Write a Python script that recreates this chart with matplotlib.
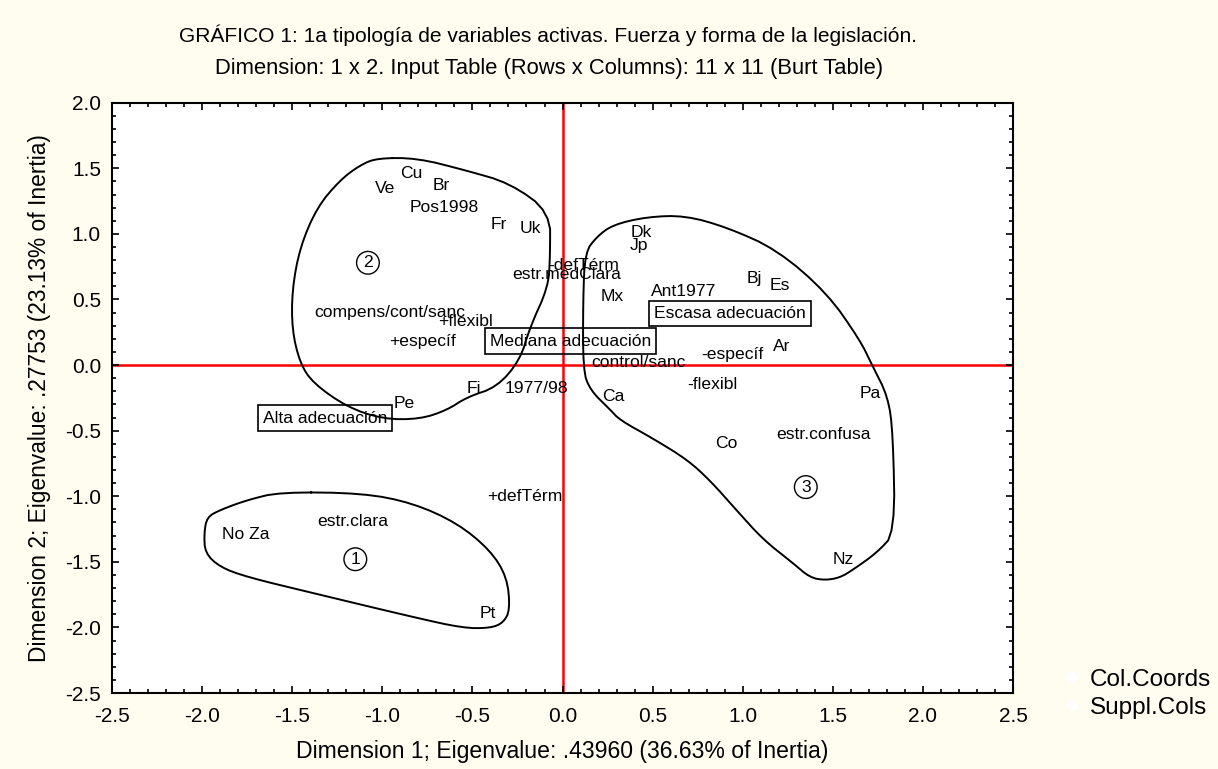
import numpy as np
import matplotlib
matplotlib.use("Agg")
import matplotlib.pyplot as plt
from matplotlib.lines import Line2D
from matplotlib.ticker import MultipleLocator

plt.rcParams['font.family'] = ['Liberation Sans', 'DejaVu Sans']

# active column categories (Col.Coords)
col_labels = ["Pos1998", "-defTérm", "estr.medClara", "compens/cont/sanc", "+flexibl",
              "+específ", "1977/98", "Ant1977", "-específ", "control/sanc", "-flexibl",
              "estr.confusa", "+defTérm", "estr.clara"]
col_x = [-0.85, -0.08, -0.28, -1.38, -0.69, -0.96, -0.32, 0.49, 0.77, 0.16, 0.69, 1.185, -0.42, -1.36]
col_y = [1.20, 0.76, 0.69, 0.40, 0.33, 0.18, -0.18, 0.56, 0.08, 0.02, -0.15, -0.526, -1.00, -1.19]

# supplementary columns (countries)
sup_labels = ["Cu", "Ve", "Br", "Fr", "Uk", "Fi", "Pe", "Dk", "Jp", "Mx", "Bj", "Es",
              "Ar", "Ca", "Pa", "Co", "Nz", "No Za", "Pt"]
sup_x = [-0.90, -1.04, -0.72, -0.40, -0.24, -0.53, -0.94, 0.38, 0.37, 0.21, 1.02, 1.15,
         1.17, 0.22, 1.65, 0.846, 1.50, -1.89, -0.46]
sup_y = [1.46, 1.35, 1.37, 1.07, 1.04, -0.18, -0.29, 1.01, 0.91, 0.52, 0.66, 0.61,
         0.145, -0.24, -0.22, -0.595, -1.48, -1.29, -1.89]

# boxed group labels
box_labels = ["Mediana adecuación", "Alta adecuación", "Escasa adecuación"]
box_x = [0.044, -1.318, 0.930]
box_y = [0.183, -0.404, 0.393]

# circled cluster numbers
clu_labels = ["1", "2", "3"]
clu_x = [-1.15, -1.08, 1.35]
clu_y = [-1.48, 0.78, -0.93]

# hand-drawn cluster outlines (closed, first point not repeated)
c1_x = [-1.568, -1.107, -0.830, -0.585, -0.402, -0.308, -0.291, -0.330, -0.402, -0.552,
        -0.830, -1.385, -1.751, -1.901, -1.984, -1.989, -1.973, -1.901, -1.751]
c1_y = [-0.968, -0.976, -1.052, -1.204, -1.410, -1.616, -1.867, -1.966, -2.005, -2.005,
        -1.921, -1.738, -1.616, -1.540, -1.433, -1.280, -1.159, -1.105, -1.029]
c2_x = [-1.029, -0.807, -0.541, -0.291, -0.069, -0.069, -0.080, -0.180, -0.236, -0.364,
        -0.530, -0.641, -0.791, -0.996, -1.196, -1.385, -1.457, -1.501, -1.501, -1.457,
        -1.362, -1.235, -1.124]
c2_y = [1.578, 1.578, 1.486, 1.387, 1.166, 0.823, 0.594, 0.290, 0.038, -0.168,
        -0.244, -0.343, -0.412, -0.412, -0.320, -0.137, 0.015, 0.267, 0.572, 0.899,
        1.204, 1.410, 1.524]
c3_x = [0.114, 0.114, 0.125, 0.191, 0.280, 0.469, 0.680, 0.913, 1.190, 1.468, 1.651,
        1.718, 1.806, 1.834, 1.845, 1.745, 1.612, 1.540, 1.457, 1.373, 1.279, 1.113,
        0.968, 0.819, 0.691, 0.502, 0.319, 0.264, 0.153]
c3_y = [-0.04, 0.50, 0.86, 0.98, 1.07, 1.13, 1.14, 1.05, 0.88, 0.55, 0.19,
        0.00, -0.24, -0.52, -1.28, -1.43, -1.56, -1.62, -1.64, -1.62, -1.51, -1.33,
        -1.11, -0.88, -0.72, -0.56, -0.42, -0.34, -0.19]


def chaikin(xs, ys, n=2):
    # corner cutting on a closed outline so the freehand shapes look rounded
    p = np.column_stack([xs, ys])
    for _ in range(n):
        nxt = np.roll(p, -1, axis=0)
        q = 0.75 * p + 0.25 * nxt
        r = 0.25 * p + 0.75 * nxt
        p = np.empty((2 * len(q), 2))
        p[0::2], p[1::2] = q, r
    p = np.vstack([p, p[:1]])
    return p[:, 0], p[:, 1]


bg = '#fffdf0'
fig = plt.figure(figsize=(12.18, 7.69), dpi=100, facecolor=bg)
ax = fig.add_axes([0.092, 0.0988, 0.7397, 0.7676])
ax.set_facecolor('white')

ax.axhline(0, color='red', lw=1.8, zorder=1)
ax.axvline(0, color='red', lw=1.8, zorder=1)

for cx, cy in [(c1_x, c1_y), (c2_x, c2_y), (c3_x, c3_y)]:
    sx, sy = chaikin(cx, cy)
    ax.plot(sx, sy, color='black', lw=1.4, zorder=2)

ax.scatter(col_x, col_y, s=20, color='white', zorder=0.5)
ax.scatter(sup_x, sup_y, s=20, color='white', zorder=0.5)

fs = 12.6
for lab, x, y in zip(col_labels + sup_labels, col_x + sup_x, col_y + sup_y):
    ax.text(x, y, lab, fontsize=fs, ha='left', va='center', zorder=3)

for lab, x, y in zip(box_labels, box_x, box_y):
    ax.text(x, y, lab, fontsize=fs, ha='center', va='center', zorder=3,
            bbox=dict(boxstyle='square,pad=0.3', facecolor='none', edgecolor='black', lw=1.2))

for lab, x, y in zip(clu_labels, clu_x, clu_y):
    ax.text(x, y, lab, fontsize=fs, ha='center', va='center', zorder=3,
            bbox=dict(boxstyle='circle,pad=0.22', facecolor='none', edgecolor='black', lw=1.0))

ax.set_xlim(-2.5, 2.5)
ax.set_ylim(-2.5, 2.0)
ax.xaxis.set_major_locator(MultipleLocator(0.5))
ax.yaxis.set_major_locator(MultipleLocator(0.5))
ax.xaxis.set_minor_locator(MultipleLocator(0.1))
ax.yaxis.set_minor_locator(MultipleLocator(0.1))
ax.xaxis.set_major_formatter(lambda v, p: f"{v:.1f}")
ax.yaxis.set_major_formatter(lambda v, p: f"{v:.1f}")
ax.tick_params(which='both', direction='in', top=True, right=True, labelsize=15, width=1.2)
ax.tick_params(which='major', length=5)
ax.tick_params(axis='x', which='major', pad=10)
ax.tick_params(axis='y', which='major', pad=8)
ax.tick_params(which='minor', length=3)
for sp in ax.spines.values():
    sp.set_linewidth(1.5)

ax.set_xlabel("Dimension 1; Eigenvalue: .43960 (36.63% of Inertia)", fontsize=16.6, labelpad=10)
ax.set_ylabel("Dimension 2; Eigenvalue: .27753 (23.13% of Inertia)", fontsize=16.4, labelpad=10)

fig.text(0.450, 0.954, "GRÁFICO 1: 1a tipología de variables activas. Fuerza y forma de la legislación.",
         fontsize=15.1, ha='center', va='center')
fig.text(0.451, 0.911, "Dimension: 1 x 2. Input Table (Rows x Columns): 11 x 11 (Burt Table)",
         fontsize=15.8, ha='center', va='center')

handles = [Line2D([], [], marker='o', ls='none', color='white', markersize=7) for _ in range(2)]
fig.legend(handles, ['Col.Coords', 'Suppl.Cols'], loc='center left',
           bbox_to_anchor=(0.870, 0.098), frameon=False, fontsize=17.5,
           handlelength=1.0, handletextpad=0.25, labelspacing=0.25,
           borderpad=0, borderaxespad=0)

fig.savefig('out.png', dpi=100, facecolor=bg)
